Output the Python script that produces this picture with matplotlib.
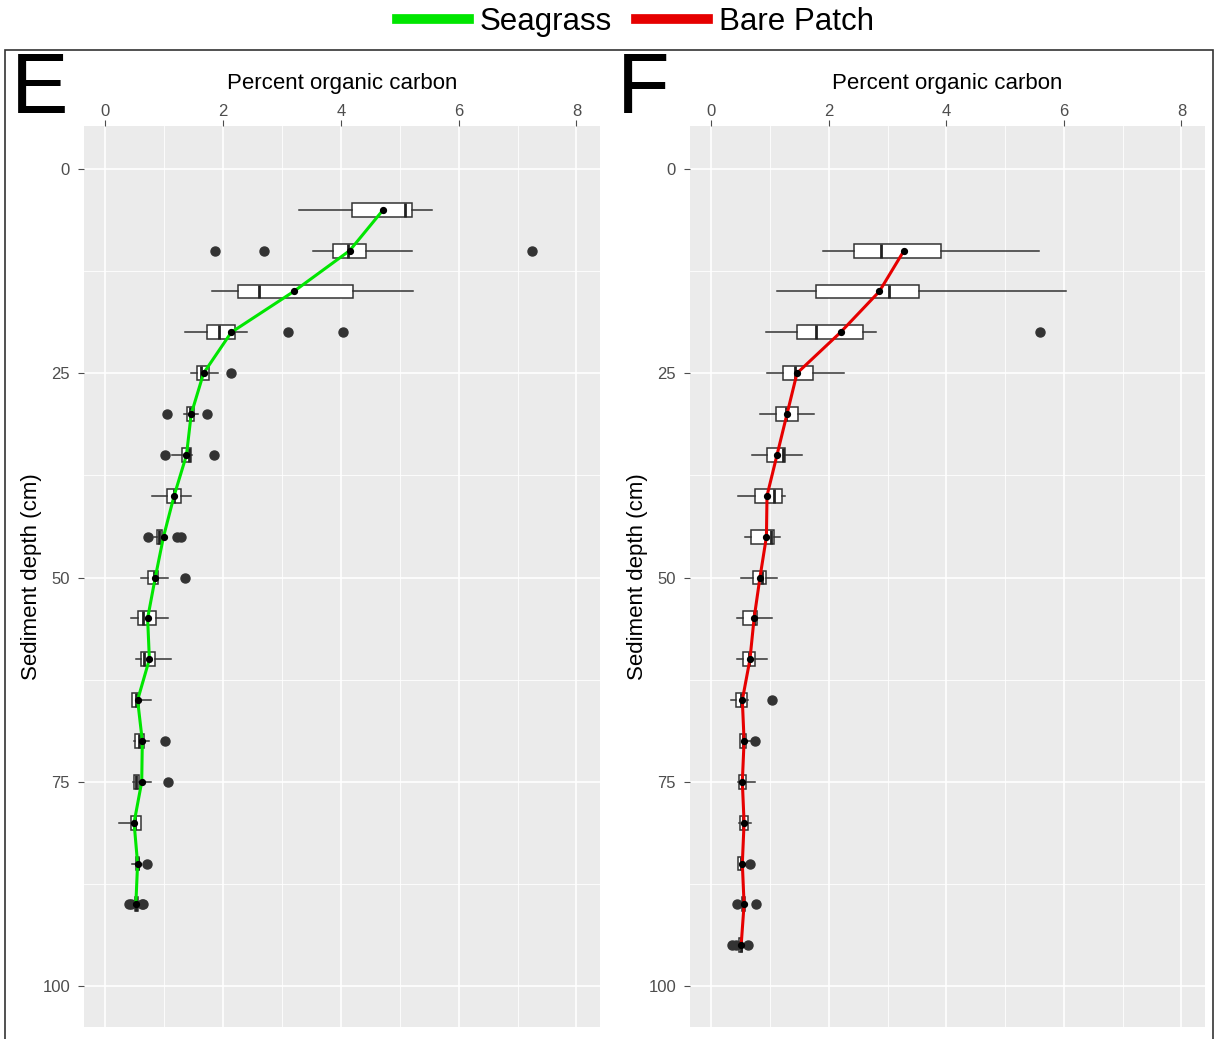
import matplotlib
matplotlib.use("Agg")
import matplotlib.pyplot as plt
from matplotlib.lines import Line2D
from matplotlib.patches import Rectangle

plt.rcParams['font.family'] = ['Liberation Sans', 'DejaVu Sans']

# ---- panel E : seagrass ----
depth_e = [5, 10, 15, 20, 25, 30, 35, 40, 45, 50, 55, 60, 65, 70, 75, 80, 85, 90]
wlo_e = [3.29, 3.52, 1.82, 1.36, 1.46, 1.33, 1.14, 0.80, 0.83, 0.61, 0.43, 0.53, 0.46, 0.49, 0.48, 0.24, 0.46, 0.50]
q1_e = [4.19, 3.86, 2.26, 1.72, 1.55, 1.39, 1.31, 1.05, 0.88, 0.73, 0.56, 0.60, 0.46, 0.51, 0.49, 0.43, 0.52, 0.50]
med_e = [5.09, 4.12, 2.61, 1.94, 1.63, 1.44, 1.43, 1.16, 0.92, 0.83, 0.65, 0.66, 0.52, 0.58, 0.53, 0.50, 0.55, 0.52]
q3_e = [5.21, 4.43, 4.20, 2.21, 1.77, 1.50, 1.46, 1.29, 0.97, 0.90, 0.87, 0.85, 0.58, 0.66, 0.58, 0.60, 0.58, 0.55]
whi_e = [5.55, 5.21, 5.23, 2.40, 1.92, 1.57, 1.48, 1.45, 1.04, 1.07, 1.06, 1.11, 0.78, 0.75, 0.78, 0.60, 0.60, 0.55]
mean_e = [4.72, 4.15, 3.20, 2.14, 1.67, 1.46, 1.38, 1.17, 0.99, 0.85, 0.72, 0.75, 0.55, 0.63, 0.62, 0.49, 0.55, 0.52]
out_e = [[], [1.87, 2.69, 7.25], [], [3.11, 4.03], [2.14], [1.05, 1.72], [1.02, 1.85], [],
         [0.73, 1.22, 1.29], [1.36], [], [], [], [1.02], [1.07], [], [0.71], [0.40, 0.44, 0.62, 0.65]]

# ---- panel F : bare patch ----
depth_f = [10, 15, 20, 25, 30, 35, 40, 45, 50, 55, 60, 65, 70, 75, 80, 85, 90, 95]
wlo_f = [1.90, 1.12, 0.94, 0.95, 0.83, 0.70, 0.46, 0.58, 0.51, 0.44, 0.44, 0.34, 0.49, 0.46, 0.47, 0.45, 0.50, 0.47]
q1_f = [2.43, 1.79, 1.46, 1.23, 1.11, 0.95, 0.75, 0.68, 0.71, 0.54, 0.54, 0.43, 0.49, 0.48, 0.49, 0.46, 0.52, 0.48]
med_f = [2.89, 3.02, 1.79, 1.43, 1.28, 1.23, 1.07, 1.02, 0.87, 0.73, 0.65, 0.51, 0.55, 0.52, 0.55, 0.50, 0.55, 0.50]
q3_f = [3.91, 3.54, 2.59, 1.74, 1.48, 1.26, 1.21, 1.07, 0.94, 0.78, 0.75, 0.61, 0.60, 0.59, 0.62, 0.54, 0.58, 0.52]
whi_f = [5.57, 6.03, 2.81, 2.26, 1.75, 1.55, 1.26, 1.17, 1.12, 1.04, 0.95, 0.63, 0.68, 0.75, 0.68, 0.60, 0.60, 0.54]
mean_f = [3.28, 2.86, 2.20, 1.46, 1.29, 1.12, 0.95, 0.94, 0.83, 0.73, 0.66, 0.53, 0.56, 0.53, 0.56, 0.53, 0.56, 0.51]
out_f = [[], [], [5.6], [], [], [], [], [], [], [], [], [1.04], [0.75], [], [], [0.66], [0.44, 0.76], [0.36, 0.42, 0.63]]

panels = [("E", depth_e, wlo_e, q1_e, med_e, q3_e, whi_e, mean_e, out_e, "#00E600"),
          ("F", depth_f, wlo_f, q1_f, med_f, q3_f, whi_f, mean_f, out_f, "#E60000")]

W, H = 1215, 1039
fig = plt.figure(figsize=(W / 100, H / 100), dpi=100)

ax_boxes = [[84, 126, 600, 1027], [690, 126, 1205, 1027]]

for (letter, dep, wlo, q1, med, q3, whi, mn, outs, col), (l, t, r, b) in zip(panels, ax_boxes):
    ax = fig.add_axes([l / W, 1 - b / H, (r - l) / W, (b - t) / H])
    ax.set_facecolor("#EBEBEB")
    for s in ax.spines.values():
        s.set_visible(False)

    stats = []
    for i in range(len(dep)):
        stats.append(dict(whislo=wlo[i], q1=q1[i], med=med[i], q3=q3[i], whishi=whi[i], fliers=outs[i]))
    ax.bxp(stats, positions=dep, widths=1.7, vert=False, patch_artist=True, manage_ticks=False,
           boxprops=dict(facecolor="white", edgecolor="#333333", linewidth=1.1),
           medianprops=dict(color="#222222", linewidth=2.0),
           whiskerprops=dict(color="#333333", linewidth=1.1),
           capprops=dict(linewidth=0),
           flierprops=dict(marker="o", markerfacecolor="#333333", markeredgecolor="#333333", markersize=6.5),
           zorder=3)

    ax.plot(mn, dep, color=col, lw=2.2, zorder=4)
    ax.plot(mn, dep, "o", color="black", ms=4.2, zorder=5)

    ax.set_xlim(-0.36, 8.4)
    ax.set_ylim(105, -5.25)
    ax.set_xticks([0, 2, 4, 6, 8])
    ax.set_xticks([1, 3, 5, 7], minor=True)
    ax.set_yticks([0, 25, 50, 75, 100])
    ax.set_yticks([12.5, 37.5, 62.5, 87.5], minor=True)
    ax.grid(which="major", color="white", lw=1.2)
    ax.grid(which="minor", color="white", lw=0.6)
    ax.set_axisbelow(True)
    ax.xaxis.tick_top()
    ax.xaxis.set_label_position("top")
    ax.tick_params(which="major", colors="#4D4D4D", labelsize=12, length=4)
    ax.tick_params(axis="x", pad=1)
    ax.tick_params(axis="y", pad=6)
    ax.tick_params(which="minor", length=0)
    ax.set_xlabel("Percent organic carbon", fontsize=16, color="black", labelpad=11)
    ax.set_ylabel("Sediment depth (cm)", fontsize=16, color="black", labelpad=0)

    fig.text((l - 73) / W, 1 - 91 / H, letter, fontsize=62, va="center", ha="left")

# outer frame around both panels
fig.add_artist(Rectangle((5 / W, -0.01), 1208 / W, 1 - 50 / H + 0.01, transform=fig.transFigure,
                         fill=False, edgecolor="#333333", lw=1.2))

handles = [Line2D([], [], color="#00E600", lw=7), Line2D([], [], color="#E60000", lw=7)]
fig.legend(handles, ["Seagrass", "Bare Patch"], loc="center", bbox_to_anchor=(0.523, 1 - 22 / H),
           ncol=2, frameon=False, fontsize=22.5, handlelength=2.3, columnspacing=0.75, handletextpad=0.35)

fig.savefig("out.png", dpi=100)
